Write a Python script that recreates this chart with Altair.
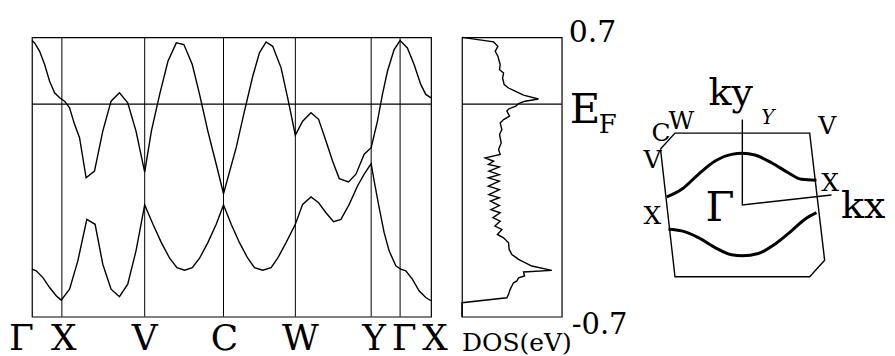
import altair as alt
import pandas as pd

FONT = "DejaVu Serif"

# ---------------- band structure ----------------
sym_labels = ["Γ", "X", "V", "C", "W", "Y", "Γ", "X"]
sym_k = [0, 30, 113, 192, 264, 340, 369, 400]
label_k = [0, 32, 113, 193, 269, 343, 373, 404]
EF = 0.365

band1_k = [0, 2.7, 7.7, 12.7, 17.7, 22.7, 27.7, 32.7, 37.7, 42.7, 47.7, 54.3, 62.7, 71, 79.3, 87.7, 96, 104.3, 113,
           119.7, 128, 136.3, 144.7, 152.3, 160.7, 168, 176.3, 184.7, 192, 204.7, 213, 221.3, 228, 234.7, 241.3, 249.7,
           256.3, 264, 271.3, 279.7, 287.3, 294.7, 301.3, 308, 317.3, 324.7, 333, 340, 346.3, 351.3, 356.3, 363, 369,
           376.3, 383, 389.7, 394.7, 400]
band1_E = [0.684, 0.672, 0.630, 0.564, 0.480, 0.422, 0.397, 0.380, 0.347, 0.264, 0.197, -0.004, 0.030, 0.230, 0.380,
           0.422, 0.372, 0.230, 0.025, 0.230, 0.414, 0.580, 0.672, 0.664, 0.564, 0.414, 0.230, 0.064, -0.084, 0.147,
           0.330, 0.505, 0.622, 0.677, 0.655, 0.547, 0.397, 0.210, 0.280, 0.322, 0.289, 0.180, 0.080, -0.008, -0.025,
           0.014, 0.114, 0.147, 0.280, 0.414, 0.530, 0.639, 0.684, 0.647, 0.564, 0.464, 0.414, 0.397]

band2_k = [0, 4.3, 11, 17.7, 24.3, 29.3, 37.7, 46, 55, 63.3, 71, 79.3, 87.7, 96, 104.3, 113, 121.3, 129.7, 138, 145.3,
           153, 160.7, 168, 176.3, 184.7, 192, 199.7, 208, 216.3, 223, 231.3, 239.7, 246.3, 254.7, 264, 271.3, 279.7,
           287.3, 294.7, 302.3, 309.7, 318, 326.3, 333, 340, 343, 348, 353, 358, 364.7, 369.7, 374.7, 381.3, 388,
           394.7, 400]
band2_E = [-0.462, -0.470, -0.504, -0.554, -0.595, -0.617, -0.562, -0.420, -0.212, -0.237, -0.437, -0.562, -0.600,
           -0.537, -0.370, -0.140, -0.237, -0.329, -0.407, -0.454, -0.467, -0.454, -0.407, -0.329, -0.237, -0.140,
           -0.237, -0.329, -0.407, -0.454, -0.467, -0.454, -0.407, -0.329, -0.237, -0.137, -0.100, -0.129, -0.179,
           -0.224, -0.212, -0.137, -0.045, 0.014, 0.067, -0.020, -0.154, -0.279, -0.370, -0.445, -0.462, -0.470,
           -0.512, -0.570, -0.604, -0.620]

# ---------------- density of states ----------------
dos_E = [0.700, 0.677, 0.655, 0.630, 0.605, 0.563, 0.538, 0.521, 0.496, 0.463, 0.446, 0.430, 0.410, 0.391, 0.380,
         0.368, 0.355, 0.341, 0.330, 0.305, 0.288, 0.271, 0.238, 0.213, 0.171, 0.138, 0.113, 0.096, 0.079, 0.063,
         0.051, 0.029, 0.012, -0.004, -0.021, -0.046, -0.063, -0.088, -0.104, -0.121, -0.143, -0.163, -0.179,
         -0.204, -0.221, -0.246, -0.263, -0.288, -0.305, -0.330, -0.363, -0.388, -0.413, -0.446, -0.468, -0.476,
         -0.496, -0.505, -0.521, -0.530, -0.546, -0.563, -0.588, -0.605, -0.630, -0.700]
dos_val = [0, 31.7, 36, 33.3, 36, 38.3, 37.7, 41.7, 40.7, 42.3, 46.7, 53.3, 61.7, 76.7, 63.3, 56.7, 54, 46.7, 45, 47.7,
           41.7, 38.3, 40, 37.7, 39.3, 36.7, 38.3, 23.3, 31.7, 26.5, 37.5, 27, 37.5, 26.5, 37.5, 26.5, 37.5, 27, 37.5,
           28.5, 37.5, 29, 38.3, 31, 38.3, 33, 40, 35.5, 41.7, 46.7, 47.3, 50, 56.7, 70, 90, 61.7, 62.7, 56.7, 55,
           51.7, 50, 48.3, 46.7, 45, 0, 0]

# ---------------- Brillouin zone / Fermi surface ----------------
bz_x = [-0.82, -0.675, 0.675, 0.825, 0.675, -0.675, -0.82]
bz_y = [0.56, 0.72, 0.72, -0.555, -0.72, -0.72, 0.56]
fs_up_x = [-0.757, -0.607, -0.44, -0.273, -0.107, 0, 0.127, 0.293, 0.46, 0.593, 0.743]
fs_up_y = [0.08, 0.157, 0.307, 0.44, 0.507, 0.517, 0.5, 0.423, 0.323, 0.257, 0.247]
fs_lo_x = [-0.74, -0.607, -0.44, -0.273, -0.107, 0, 0.16, 0.327, 0.493, 0.627, 0.743]
fs_lo_y = [-0.243, -0.26, -0.327, -0.427, -0.5, -0.51, -0.487, -0.393, -0.26, -0.143, -0.077]
kaxes_x = [0, 0, 0.893]
kaxes_y = [0.857, 0, 0.1]

# ======================================================
xk = alt.Scale(domain=[0, 400], nice=False, zero=False)
yE = alt.Scale(domain=[-0.7, 0.7], nice=False, zero=False)
xd = alt.Scale(domain=[0, 100], nice=False, zero=False)
xb = alt.Scale(domain=[-1.5, 1.3], nice=False, zero=False)
yb = alt.Scale(domain=[-1.12, 1.68], nice=False, zero=False)


def text_layer(labels, xs, ys, xscale, yscale, size, align="left", dx=0, style="normal"):
    df = pd.DataFrame({"t": labels, "x": xs, "y": ys})
    return alt.Chart(df).mark_text(font=FONT, fontSize=size, align=align, baseline="alphabetic",
                                   color="black", dx=dx, fontStyle=style).encode(
        x=alt.X("x:Q", scale=xscale, axis=None),
        y=alt.Y("y:Q", scale=yscale, axis=None),
        text="t:N")


band_df = pd.DataFrame({
    "k": band1_k + band2_k,
    "E": band1_E + band2_E,
    "band": ["b1"] * len(band1_k) + ["b2"] * len(band2_k),
    "i": list(range(len(band1_k))) + list(range(len(band2_k))),
})

bands = alt.Chart(band_df).mark_line(color="black", strokeWidth=1.4).encode(
    x=alt.X("k:Q", scale=xk, axis=None),
    y=alt.Y("E:Q", scale=yE, axis=None),
    detail="band:N", order="i:Q")
vlines = alt.Chart(pd.DataFrame({"k": sym_k[1:-1]})).mark_rule(color="black", strokeWidth=1).encode(
    x=alt.X("k:Q", scale=xk, axis=None))
ef1 = alt.Chart(pd.DataFrame({"E": [EF]})).mark_rule(color="black", strokeWidth=1.2).encode(
    y=alt.Y("E:Q", scale=yE, axis=None))
lab_first = text_layer(sym_labels[:1], label_k[:1], [-0.865], xk, yE, 36, align="right", dx=2)
lab_rest = text_layer(sym_labels[1:], label_k[1:], [-0.865] * 7, xk, yE, 36, align="center")

band_panel = alt.layer(bands, vlines, ef1, lab_first, lab_rest).properties(width=400, height=280)

dos_df = pd.DataFrame({"E": dos_E, "dos": dos_val, "i": list(range(len(dos_E)))})
dos_line = alt.Chart(dos_df).mark_line(color="black", strokeWidth=1.4).encode(
    x=alt.X("dos:Q", scale=xd, axis=None),
    y=alt.Y("E:Q", scale=yE, axis=None),
    order="i:Q")
ef2 = alt.Chart(pd.DataFrame({"E": [EF]})).mark_rule(color="black", strokeWidth=1.2).encode(
    y=alt.Y("E:Q", scale=yE, axis=None))
t_top = text_layer(["0.7"], [107], [0.675], xd, yE, 30)
t_E = text_layer(["E"], [108], [0.2715], xd, yE, 42)
t_F = text_layer(["F"], [137], [0.2215], xd, yE, 26)
t_dos = text_layer(["DOS(eV)"], [0], [-0.87], xd, yE, 25)
t_bot = text_layer(["-0.7"], [110], [-0.785], xd, yE, 29)

dos_panel = alt.layer(dos_line, ef2, t_top, t_E, t_F, t_dos, t_bot).properties(width=100, height=280)

bz_df = pd.DataFrame({
    "x": bz_x + fs_up_x + fs_lo_x + kaxes_x,
    "y": bz_y + fs_up_y + fs_lo_y + kaxes_y,
    "part": ["zone"] * len(bz_x) + ["fs1"] * len(fs_up_x) + ["fs2"] * len(fs_lo_x) + ["axes"] * len(kaxes_x),
    "i": list(range(len(bz_x))) + list(range(len(fs_up_x))) + list(range(len(fs_lo_x))) + list(range(len(kaxes_x))),
})
zone = alt.Chart(bz_df).transform_filter(
    "datum.part == 'zone' || datum.part == 'axes'").mark_line(color="black", strokeWidth=1.4).encode(
    x=alt.X("x:Q", scale=xb, axis=None), y=alt.Y("y:Q", scale=yb, axis=None), detail="part:N", order="i:Q")
fs = alt.Chart(bz_df).transform_filter(
    "datum.part == 'fs1' || datum.part == 'fs2'").mark_line(color="black", strokeWidth=3,
                                                             interpolate="monotone").encode(
    x=alt.X("x:Q", scale=xb, axis=None), y=alt.Y("y:Q", scale=yb, axis=None), detail="part:N", order="i:Q")
big = text_layer(["ky", "kx"], [-0.34, 0.99], [1.005, -0.13], xb, yb, 38)
gam = text_layer(["Γ"], [-0.37], [-0.16], xb, yb, 42)
small = text_layer(["X", "X", "V", "C", "W", "V"], [-0.99, 0.79, -0.99, -0.91, -0.74, 0.76],
                   [-0.19, 0.14, 0.37, 0.64, 0.76, 0.71], xb, yb, 25)
ylab = text_layer(["Y"], [0.19], [0.81], xb, yb, 20, style="italic")

bz_panel = alt.layer(zone, fs, big, gam, small, ylab).properties(
    width=280, height=280, view=alt.ViewBackground(stroke="transparent"))

chart = alt.hconcat(band_panel, dos_panel, bz_panel, spacing=31, bounds="flush").properties(
    padding={"left": 0, "top": 9, "right": 0, "bottom": 0}
).configure_view(stroke="black", strokeWidth=1.2)

chart.save("out.html", embed_options={"renderer": "svg", "actions": False})
